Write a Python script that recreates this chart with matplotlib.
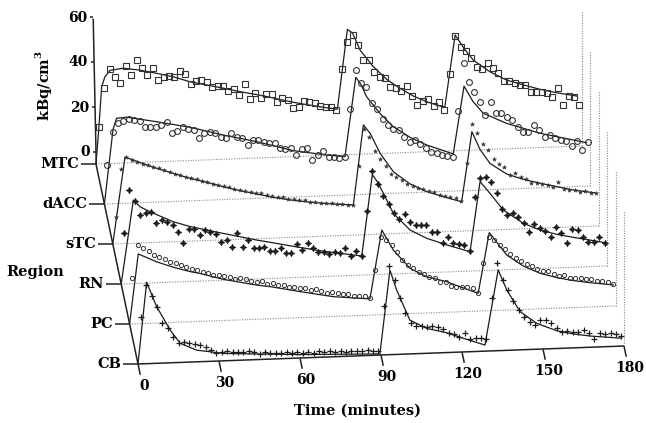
import numpy as np
import matplotlib
matplotlib.use("Agg")
import matplotlib.pyplot as plt
from matplotlib.transforms import Affine2D

plt.rcParams["font.family"] = "DejaVu Serif"
plt.rcParams["font.weight"] = "bold"
plt.rcParams["mathtext.fontset"] = "custom"
plt.rcParams["mathtext.rm"] = "DejaVu Serif:bold"

# rows from front (CB) to back (MTC)
regions = ["CB", "PC", "RN", "sTC", "dACC", "MTC"]
time_ticks = [0, 30, 60, 90, 120, 150, 180]
conc_ticks = [0, 20, 40, 60]

# 2-minute frames, mid-frame times
frame_t = np.arange(1, 180, 2)

# measured activity, kBq/cm3
mtc_pts = [16.5, 33.8, 42, 38.2, 35.5, 43.2, 39, 45.6, 41.8, 38.7,
           41.6, 36.3, 37.4, 37.9, 37.5, 40.1, 38.5, 34, 35.4, 35.6,
           34.8, 32.2, 32.7, 32.6, 30.3, 31.1, 28.3, 33.1, 26.4, 28.8,
           26.5, 28.3, 28.2, 24.7, 26.4, 25.3, 21.5, 21.9, 24.7, 24.2,
           23.6, 22.1, 21.4, 21.3, 20,
           38, 50.2, 53.1, 48.6, 41.8, 41.7, 36.4, 33.9, 33.3, 29.5,
           28.7, 27.6, 29.7, 25, 20.9, 22.6, 23.3, 20.2, 22, 18.3,
           34.2, 51, 45.9, 44.3, 41.1, 36.7, 35.7, 38.6, 36, 33.7,
           30.3, 30.1, 29, 28.1, 28, 25, 24.9, 24.8, 24.3, 22.1,
           26, 18.5, 22.4, 21.8, 18.3]
dacc_pts = [17.3, 32, 35.9, 36.7, 37.2, 36.8, 36.3, 33.4, 33.6, 33.2,
            34.2, 35.6, 30.3, 31.4, 32.8, 31.8, 31.4, 27.6, 29.8, 30.4,
            29.9, 28, 27.2, 29.3, 27.7, 26.9, 23.9, 26, 25.9, 24.8,
            24.3, 24.4, 22.1, 21.3, 21.7, 18.6, 21.1, 21.4, 16.1, 18.3,
            20, 17.3, 17.2, 16.7, 17.1,
            38, 55.4, 49.4, 47.8, 40.4, 37.6, 33.1, 30.4, 28.4, 28,
            24.7, 22.7, 23.3, 21.5, 19.5, 17.9, 17.3, 16.2, 15.7, 15.3,
            35.6, 56.9, 48.4, 43.8, 39.3, 33.3, 39.1, 33.9, 34, 32.2,
            30.6, 27.6, 25.2, 25.2, 28, 25.7, 22.4, 23.3, 21.8, 20.9,
            20.5, 18.1, 20.4, 16.1, 19.7]
stc_pts = [12, 33, 38.5, 37.2, 36.2, 35.2, 34.6, 33.5, 32.8, 31.9,
           31.2, 30.3, 29.6, 28.7, 28, 27.4, 26.5, 26, 25, 24.6,
           23.8, 23.2, 22.5, 22, 21.3, 21, 20.3, 20, 19.1, 18.9,
           18.2, 18, 17.3, 17.1, 16.4, 16.2, 15.6, 15.5, 15, 14.7,
           14.5, 14, 13.8, 13.3, 13.2,
           30.6, 47, 43.2, 37, 33.5, 30.3, 26.5, 25, 23.5, 22,
           21, 19.8, 19.3, 18.2, 17.6, 16.5, 16, 15.2, 14.6, 13.5,
           30, 47.4, 43.2, 38.4, 35.6, 31.5, 29.2, 27.6, 24.1, 24.8,
           23.2, 22, 20.4, 20.3, 19.6, 19, 18.2, 20, 17, 16.5,
           16.2, 15.4, 15.6, 15, 14.8]
rn_pts = [22.5, 41.6, 36.8, 30.4, 31.3, 31.6, 26.7, 27.8, 26.9, 25.4,
          22.3, 17.3, 23.2, 23.1, 20.5, 22.6, 21.5, 20.7, 17.2, 17.8,
          14.8, 20.6, 14.6, 17.5, 13.7, 13.6, 14.2, 12.2, 12.3, 13.2,
          10.9, 10.8, 14.9, 12.1, 15, 12.7, 11.1, 11, 9.9, 10.8,
          10.3, 12.2, 8.7, 10.9, 8.5,
          28.5, 46.2, 40, 34.8, 31, 27, 24.5, 26.5, 22.9, 21.4,
          21.3, 21.2, 18.1, 18, 13, 15.6, 12.6, 12.2, 11.7, 9.1,
          33, 41.1, 41.7, 39.4, 34.1, 27, 24.3, 25, 23.1, 20.6,
          16.5, 19.9, 17.9, 16.7, 14, 18, 15.3, 11, 16.9, 16.5,
          13.4, 11.1, 11, 12.9, 10.4]
pc_pts = [20.3, 35, 33.4, 32.3, 30.3, 29.4, 28.2, 27, 26.2, 25.4,
          24.3, 23.5, 22.8, 21.7, 21.2, 20.4, 20.3, 19.6, 19.3, 18.4,
          18.8, 17.9, 17.3, 16.6, 16.8, 15.7, 15.8, 15, 14.6, 13.8,
          13.9, 13, 13.2, 12.2, 12.4, 11.5, 10.6, 10.9, 10.2, 9.6,
          9.9, 8.8, 8.6, 8.7, 7.5,
          20, 34.7, 33.1, 30.8, 27.7, 24, 21.6, 20.1, 18.5, 17.2,
          16.1, 15.3, 13.7, 13.3, 11.6, 11.2, 10.8, 11, 10.2, 8.2,
          21.2, 32.9, 31.3, 29, 27, 24.8, 22.8, 21.5, 20.2, 19,
          17.8, 16.6, 16.5, 15.3, 14.2, 14.6, 13.4, 13.2, 12.8, 12.3,
          12.2, 11.6, 11.2, 10.7, 9.9]
cb_pts = [21, 35, 29.8, 25.2, 18, 15.4, 11.5, 8.8, 9.2, 8.5,
          8, 7.5, 6.3, 4.9, 3.8, 4.1, 4.5, 3.6, 3.9, 3.5,
          3.8, 3.2, 2.6, 3.3, 2.8, 2.5, 2.4, 2.9, 2.4, 2.6,
          2.3, 2.5, 2.2, 2.9, 2.4, 2.7, 2.2, 2.5, 2, 2.4,
          2.2, 2.1, 2.3, 1.8, 2,
          21.7, 39.4, 33.1, 24.9, 18.1, 13.6, 12.3, 12.2, 11.8, 12,
          11.6, 10.4, 8.8, 8.1, 6.8, 8.5, 5.5, 5.9, 5.8, 5.2,
          23.4, 39.1, 31.3, 26.8, 22, 17.7, 14.5, 12.4, 11, 12.9,
          12.8, 11.5, 9, 7.3, 7.5, 7.2, 7, 7.7, 6.4, 3.5,
          6, 5.6, 5.8, 5.5, 4.5]

# model fits (time, kBq/cm3)
mtc_fit_t = [0, 1, 2.1, 3.3, 5.2, 10.1, 16.3, 22.5, 28.6, 34.8, 41, 47.1, 53.3,
             59.5, 64.4, 67, 73, 79.3, 85.4, 89.4, 93.1, 95, 97.8, 102.7, 107.7,
             112.6, 117.5, 122.5, 127.4, 129.2, 133, 136.5, 139.7, 145.9, 152,
             158.3, 164.4, 170.6, 178]
mtc_fit = [0, 15, 34.3, 38.6, 41.4, 42.1, 41, 39.3, 37.5, 35, 33.3, 31.6, 29.8,
           28.2, 26.8, 26, 24.2, 22.6, 21.2, 20.4, 55.7, 54, 46.3, 38.7, 32.8,
           28.6, 25, 22.2, 20.1, 19.6, 51.4, 45, 40, 34.5, 30.6,
           28.1, 25.9, 24.1, 22.3]
dacc_fit_t = [0, 3.2, 4.5, 8.3, 19.4, 31.7, 44, 56.4, 70, 82.3, 89.1, 93.1, 95,
              97.1, 102, 107, 113.2, 119.4, 126.8, 129.2, 133.2, 136.5, 140.3,
              149, 161.3, 173.7, 178.6]
dacc_fit = [0, 33, 37.9, 38.2, 35.7, 32.7, 28.7, 25.2, 20.6, 18.1, 17.1, 52.2, 49,
            43.4, 35.8, 29.6, 24.6, 20.9, 17.6, 16.5, 46.5, 39.5, 34.1,
            29.2, 24.3, 20.7, 19.3]
stc_fit_t = [0, 4.5, 7, 10.1, 16.3, 22.4, 28.6, 34.8, 40.9, 47.1, 53.3, 58.2, 65,
             72, 80, 89.1, 92.8, 95.3, 99, 103.9, 110.1, 116.3, 122.4, 129.2,
             133, 136, 139.7, 145.9, 152, 158.2, 164.4, 170.6, 178.6]
stc_fit = [0, 38.3, 37.3, 35.7, 32.9, 30.4, 27.9, 25.9, 23.6, 21.6, 19.9, 18.4, 16.8,
           15.5, 14.3, 13.4, 48.8, 45, 35.9, 27.5, 21.8, 18.1, 15.6, 13,
           44, 36, 29.6, 24.6, 22, 20, 18.2, 16.4, 14.8]
rn_fit_t = [0, 4.5, 7, 10.7, 19.3, 25.5, 37.8, 50.2, 55.1, 65, 75, 89.1, 93, 95,
            97.1, 100.8, 107, 113.1, 120.6, 129.2, 132.9, 136.6, 141.5, 148.9,
            155.1, 161.3, 167.4, 173.6, 179.2]
rn_fit = [0, 37.1, 34, 31.6, 26.8, 24.4, 20.8, 17.3, 16.1, 13.6, 11.2, 8.5, 44.5, 41,
          36, 26.9, 19.2, 15.3, 12, 8.6, 39.6, 34.2, 26.6, 20.4,
          17.1, 14.9, 13.3, 11.8, 10.4]
pc_fit_t = [0, 3.2, 10, 16.2, 22.4, 26.1, 34.7, 47.1, 52, 63.1, 75.4, 89, 93.4,
            97.7, 103.9, 110, 117.4, 123, 129.1, 133.2, 139.7, 145.8, 152, 158.2,
            164.3, 170.5, 179.1]
pc_fit = [0, 31, 27.2, 24.5, 22.3, 21.3, 18.3, 15.2, 14.3, 11.6, 8.8, 7.2, 37.6,
          28.5, 20.1, 16.1, 13.6, 10.8, 7.9, 34.7, 24.4, 19.3, 15.8, 13.6,
          12, 10.8, 9.4]
cb_fit_t = [0, 3.2, 6.9, 11.9, 15.6, 21.7, 31.6, 44, 60, 75, 89.6, 93.3, 95.8,
            100.7, 106.9, 114.3, 120, 128.5, 133.4, 136.6, 141.5, 147.7, 155.1,
            161.2, 167.4, 179.1]
cb_fit = [0, 36.2, 25.2, 14.6, 8.5, 5.2, 3.3, 2.5, 1.5, 1, 0.5, 37.6, 28.6,
          15, 11.1, 8.8, 6.3, 2.7, 35.9, 26.8, 17, 11.5, 7.9,
          6.2, 5, 3.5]

pts = [cb_pts, pc_pts, rn_pts, stc_pts, dacc_pts, mtc_pts]
fits = [(cb_fit_t, cb_fit), (pc_fit_t, pc_fit), (rn_fit_t, rn_fit),
        (stc_fit_t, stc_fit), (dacc_fit_t, dacc_fit), (mtc_fit_t, mtc_fit)]

INK = "#1c1c1c"
marker_styles = [
    dict(marker="+", ms=4.2, mew=0.9, mec=INK),                     # CB
    dict(marker="o", ms=3.0, mew=0.7, mfc="none", mec="#333333"),   # PC
    dict(marker=(4, 1, 0), ms=5.0, mew=0.3, mfc=INK, mec=INK),      # RN
    dict(marker="*", ms=3.2, mew=0.3, mfc="#333333", mec="#333333"),  # sTC
    dict(marker="o", ms=4.2, mew=0.8, mfc="none", mec="#333333"),   # dACC
    dict(marker="s", ms=4.0, mew=0.8, mfc="none", mec="#333333"),   # MTC
]

# oblique layout: time runs right, rows step back and to the left
ORIGIN = (138.0, 364.0)
PER_MIN = (2.7, -0.1)
PER_KBQ = 2.25
PER_ROW = (-8.4, -40.0)


def row_affine(k, lean=0.0, lift=0.0):
    return Affine2D.from_values(PER_MIN[0], PER_MIN[1], lean, -PER_KBQ,
                                ORIGIN[0] + PER_ROW[0] * k,
                                ORIGIN[1] + PER_ROW[1] * k - lift)


fig = plt.figure(figsize=(6.46, 4.23), dpi=100)
ax = fig.add_axes([0, 0, 1, 1])
ax.set_xlim(0, 646)
ax.set_ylim(423, 0)
ax.axis("off")

dots = dict(color="#8a8a8a", lw=0.8, ls=(0, (1, 1.3)), zorder=1)

# back to front so nearer rows sit on top
for k in range(len(regions) - 1, -1, -1):
    tr = row_affine(k) + ax.transData
    if k > 0:
        ax.plot([0, 180], [0, 0], transform=tr, **dots)
    ax.plot([180, 180], [0, 60], transform=tr, **dots)
    ft, fz = fits[k]
    ax.plot(ft, fz, color=INK, lw=0.9, transform=tr, zorder=3,
            solid_joinstyle="round")
    ax.plot(frame_t, pts[k], ls="none", transform=tr, zorder=4,
            **marker_styles[k])

AX_KW = dict(color="#222222", lw=1.1, zorder=5, solid_capstyle="butt")

# region axis and its ticks
front = row_affine(0).transform((0, 0))
back = row_affine(len(regions) - 1).transform((0, 0))
ax.plot([front[0], back[0]], [front[1], back[1]], **AX_KW)
for k, name in enumerate(regions):
    x0, y0 = row_affine(k).transform((0, 0))
    ax.plot([x0 - 15, x0], [y0, y0], **AX_KW)
    ax.text(x0 - 17, y0, name, ha="right", va="center", fontsize=10.5)

# time axis along the front row
t_end = row_affine(0).transform((180, 0))
ax.plot([front[0], t_end[0]], [front[1], t_end[1]], **AX_KW)
for t in time_ticks:
    a = row_affine(0).transform((t, 0))
    b = row_affine(-0.27).transform((t, 0))
    c = row_affine(-0.56).transform((t, 0))
    ax.plot([a[0], b[0]], [a[1], b[1]], **AX_KW)
    ax.text(c[0] + 1, c[1], str(t), ha="center", va="center", fontsize=10)

# concentration axis at the back corner
zaff = row_affine(len(regions) - 1, lean=-0.047, lift=11.5)
z_lo = zaff.transform((0, -5.1))
z_hi = zaff.transform((0, 59.5))
ax.plot([z_lo[0], z_hi[0]], [z_lo[1], z_hi[1]], **AX_KW)
for v in conc_ticks:
    x, y = zaff.transform((0, v))
    ax.plot([x - 3, x], [y, y], **AX_KW)
    ax.text(x - 6, y, str(v), ha="right", va="center", fontsize=10)

ax.text(43, 86, r"kBq/cm$^{3}$", rotation=90, ha="center", va="center",
        fontsize=10.5)
ax.text(35, 272, "Region", ha="center", va="center", fontsize=10.5)
ax.text(357, 411, "Time (minutes)", ha="center", va="center", fontsize=10.5)

fig.savefig("out.png", dpi=100)
